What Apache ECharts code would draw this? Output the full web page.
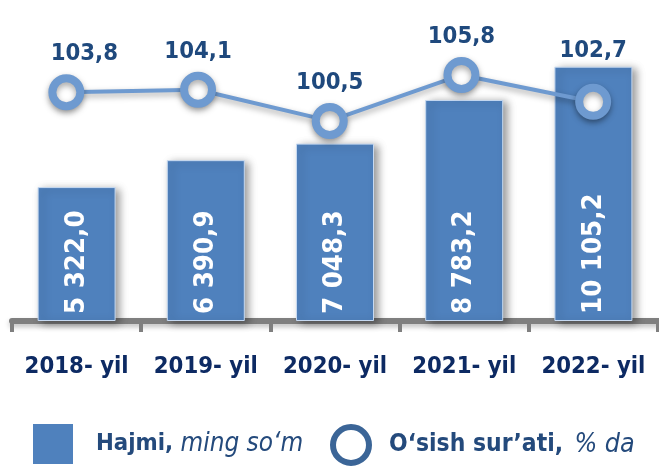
<!DOCTYPE html>
<html>
<head>
<meta charset="utf-8">
<script src="https://cdn.jsdelivr.net/npm/echarts@6/dist/echarts.min.js"></script>
<style>html,body{margin:0;padding:0;background:#fff;}#c{width:659px;height:470px;}</style>
</head>
<body>
<div id="c"></div>
<script>
// ---- data ----
const categories = ['2018- yil', '2019- yil', '2020- yil', '2021- yil', '2022- yil'];
const volume = [5322.0, 6390.9, 7048.3, 8783.2, 10105.2];
const growth = [103.8, 104.1, 100.5, 105.8, 102.7];
const seriesNames = ['Hajmi', 'O‘sish sur’ati'];
const legendUnits = ['ming so‘m', '% da'];

function hasFont(f) {
  const c = document.createElement('canvas').getContext('2d');
  const t = '103,8 2018- yil Hajmi, mingsom';
  c.font = 'bold 32px monospace';
  const a = c.measureText(t).width;
  c.font = 'bold 32px "' + f + '", monospace';
  const b = c.measureText(t).width;
  return Math.abs(a - b) > 0.5;
}
const NARROW = hasFont('Liberation Sans Narrow');
const FONT = NARROW ? '"Liberation Sans Narrow", sans-serif' : '"DejaVu Sans Condensed", "Liberation Sans", sans-serif';
const S = NARROW ? 1 : 0.74;

function fmtVol(v) {
  const p = v.toFixed(1).split('.');
  return p[0].replace(/\B(?=(\d{3})+(?!\d))/g, ' ') + ',' + p[1];
}
function fmtPct(v) { return v.toFixed(1).replace('.', ','); }

const lineData = growth.map((v, i) => {
  const item = { value: v };
  if (i === 0) item.label = { offset: [18, 0] };
  if (i === 4) item.label = { offset: [0, -13] };
  return item;
});

const chart = echarts.init(document.getElementById('c'), null, { renderer: 'canvas' });
chart.setOption({
  animation: false,
  backgroundColor: '#fff',
  textStyle: { fontFamily: FONT },
  grid: [
    { left: 12, right: 1, top: 19, bottom: 149 },
    { left: 0.5, right: -6, top: 38.5, bottom: 258 }
  ],
  xAxis: [
    {
      type: 'category', gridIndex: 0, data: categories,
      axisLine: { lineStyle: { color: '#7f7f7f', width: 6, shadowColor: 'rgba(0,0,0,0.25)', shadowBlur: 5, shadowOffsetY: 3 } },
      axisTick: { show: true, interval: 0, length: 11, lineStyle: { color: '#7f7f7f', width: 4 } },
      axisLabel: { interval: 0, hideOverlap: false, color: '#0d2a63', fontSize: 32 * S, fontWeight: 'bold', fontFamily: FONT, margin: 34 }
    },
    { type: 'category', gridIndex: 1, data: categories, show: false }
  ],
  yAxis: [
    { type: 'value', gridIndex: 0, min: 0, max: 12000, show: false, splitLine: { show: false } },
    { type: 'value', gridIndex: 1, min: 90, max: 110, show: false, splitLine: { show: false } }
  ],
  legend: [
    {
      left: 33, top: 424, padding: 0, itemWidth: 40, itemHeight: 40,
      data: [{ name: seriesNames[0], icon: 'rect', itemStyle: { color: '#4f81bd', borderWidth: 0 } }],
      formatter: n => '{b|' + n + ',} {i|' + legendUnits[0] + '}',
      textStyle: {
        rich: {
          b: { fontFamily: FONT, fontWeight: 'bold', fontSize: 32 * S, color: '#244a7c', padding: [0, 0, 0, 18] },
          i: { fontFamily: FONT, fontStyle: 'italic', fontSize: 35 * S, color: '#244a7c', padding: [0, 0, 0, 4] }
        }
      }
    },
    {
      left: 330, top: 424, padding: 0, itemWidth: 36, itemHeight: 36,
      data: [{ name: seriesNames[1], icon: 'circle', itemStyle: { color: '#fff', borderColor: '#3b6597', borderWidth: 6 } }],
      formatter: n => '{b|' + n + ',} {i|' + legendUnits[1] + '}',
      textStyle: {
        rich: {
          b: { fontFamily: FONT, fontWeight: 'bold', fontSize: 33 * S, color: '#244a7c', padding: [0, 0, 0, 15] },
          i: { fontFamily: FONT, fontStyle: 'italic', fontSize: 36 * S, color: '#244a7c', padding: [0, 0, 0, 8] }
        }
      }
    }
  ],
  series: [
    {
      name: seriesNames[0], type: 'bar', xAxisIndex: 0, yAxisIndex: 0,
      data: volume, barWidth: 78,
      itemStyle: {
        color: '#4f81bd', borderColor: '#c6d9f1', borderWidth: 1,
        shadowColor: 'rgba(0,0,0,0.4)', shadowBlur: 8, shadowOffsetX: 4, shadowOffsetY: 2
      },
      label: {
        show: true, position: 'insideBottom', rotate: 90, align: 'left', verticalAlign: 'middle',
        distance: 7, color: '#fff', fontFamily: FONT, fontWeight: 'bold', fontSize: 37 * S,
        formatter: p => fmtVol(p.value)
      }
    },
    {
      name: seriesNames[1], type: 'line', xAxisIndex: 1, yAxisIndex: 1,
      data: lineData, symbol: 'circle', symbolSize: 28,
      lineStyle: { color: '#6e9ad0', width: 4, shadowColor: 'rgba(0,0,0,0.35)', shadowBlur: 6, shadowOffsetY: 3 },
      itemStyle: { color: '#fff', borderColor: '#6e9ad0', borderWidth: 8, shadowColor: 'rgba(0,0,0,0.35)', shadowBlur: 6, shadowOffsetY: 3 },
      label: {
        show: true, position: 'top', distance: 8, color: '#1f497d', fontFamily: FONT, fontWeight: 'bold', fontSize: 32 * S,
        formatter: p => fmtPct(p.value)
      },
      z: 5
    }
  ]
});
</script>
</body>
</html>
